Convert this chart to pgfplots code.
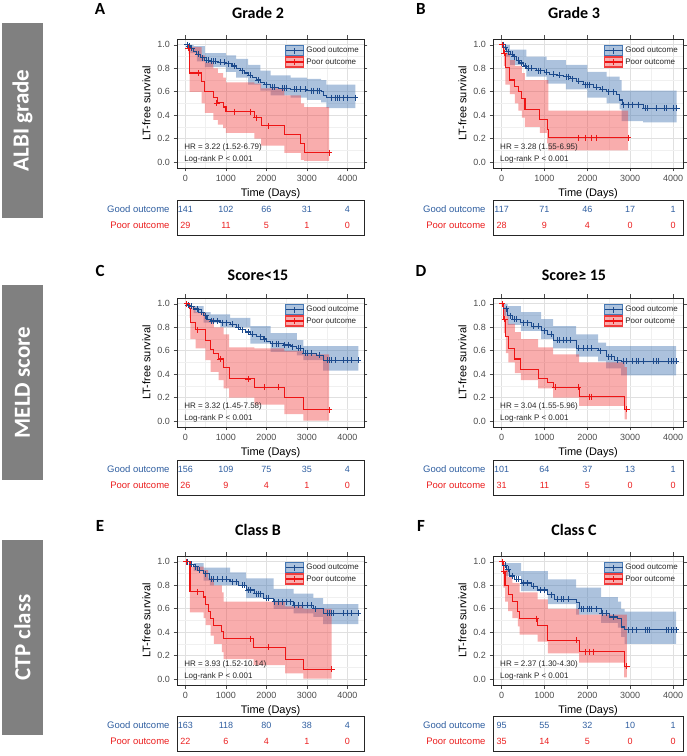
\documentclass[border=0pt]{standalone}
\usepackage{fontspec}
\setmainfont{Liberation Sans}
\newfontfamily\titlefont{Carlito}
\usepackage{pgfplots}
\pgfplotsset{compat=1.18}

\definecolor{goodc}{RGB}{28,74,140}
\definecolor{poorc}{RGB}{238,20,20}
\definecolor{goodbd}{RGB}{70,120,180}
\definecolor{poorbd}{RGB}{240,60,60}
\definecolor{goodtxt}{RGB}{47,94,160}
\definecolor{poortxt}{RGB}{235,30,30}
\definecolor{boxgray}{RGB}{128,128,128}

% bands: upper limit forward, then lower limit backward
% (each lower value paired with the time where it ends)
\pgfplotsset{
  km/.style={
    scale only axis, height=129pt,
    ymin=-0.05, ymax=1.05,
    ytick={0,0.2,0.4,0.6,0.8,1}, minor ytick={0.1,0.3,0.5,0.7,0.9},
    xtick={0,1000,2000,3000,4000}, minor xtick={500,1500,2500,3500},
    grid=both,
    major grid style={draw=black!12, line width=0.8pt},
    minor grid style={draw=black!6, line width=0.5pt},
    axis line style={draw=black!85, line width=0.9pt},
    tick align=outside, major tick length=3.5pt, minor tick length=0pt,
    tick style={draw=black!70, line width=0.7pt},
    tick label style={font=\fontsize{9}{10}\selectfont, text=black!70},
    /pgf/number format/assume math mode=true,
    /pgf/number format/1000 sep={},
    yticklabel style={/pgf/number format/fixed, /pgf/number format/fixed zerofill, /pgf/number format/precision=1},
    xlabel={Time (Days)}, ylabel={LT-free survival},
    label style={font=\fontsize{11}{12}\selectfont, text=black},
    legend style={at={(1,1)}, anchor=north east, xshift=-3pt, yshift=-6pt,
      draw=none, fill=none, font=\fontsize{8}{9}\selectfont, text=black!85,
      row sep=0pt, inner sep=0pt},
    legend cell align=left,
  },
  kmL/.style={km, width=187pt, xmin=-210, xmax=4410},
  kmR/.style={km, width=190pt, xmin=-201, xmax=4231},
  gband/.style={const plot, draw=none, fill=goodbd, fill opacity=0.45, forget plot},
  rband/.style={const plot, draw=none, fill=poorbd, fill opacity=0.42, forget plot},
  gline/.style={draw=goodc, line width=1.1pt, const plot,
    legend image code/.code={
      \fill[goodbd, fill opacity=0.45] (0pt,-5pt) rectangle (18pt,5pt);
      \draw[goodc, line width=1.1pt] (0pt,0pt) -- (18pt,0pt) (9pt,-3.2pt) -- (9pt,3.2pt);}},
  rline/.style={draw=poorc, line width=1.1pt, const plot,
    legend image code/.code={
      \fill[poorbd, fill opacity=0.42] (0pt,-5pt) rectangle (18pt,5pt);
      \draw[poorc, line width=1.1pt] (0pt,0pt) -- (18pt,0pt) (9pt,-3.2pt) -- (9pt,3.2pt);}},
  gcens/.style={only marks, mark=+, mark size=3pt, mark options={draw=goodc, line width=0.8pt}, forget plot},
  rcens/.style={only marks, mark=+, mark size=3pt, mark options={draw=poorc, line width=0.8pt}, forget plot},
  tbl/.style={scale only axis, height=35pt, ymin=0, ymax=2,
    xtick=\empty, minor xtick={500,1500,2500,3500},
    xminorgrids, minor grid style={draw=black!6, line width=0.5pt},
    ytick={0.57,1.47},
    yticklabels={\textcolor{poortxt}{Poor outcome},\textcolor{goodtxt}{Good outcome}},
    major tick length=0pt, minor tick length=0pt,
    yticklabel style={font=\fontsize{9.5}{10}\selectfont, xshift=-4pt},
    axis line style={draw=black!85, line width=0.9pt},
    clip=false},
  tblL/.style={tbl, width=187pt, xmin=-210, xmax=4410},
  tblR/.style={tbl, width=190pt, xmin=-201, xmax=4231},
  gnum/.style={draw=none, mark=none,
    nodes near coords, point meta=explicit symbolic,
    nodes near coords style={anchor=center, font=\fontsize{9}{10}\selectfont, text=goodtxt}},
  rnum/.style={draw=none, mark=none,
    nodes near coords, point meta=explicit symbolic,
    nodes near coords style={anchor=center, font=\fontsize{9}{10}\selectfont, text=poortxt}},
}
\tikzset{
  hr/.style={font=\fontsize{8}{9}\selectfont, text=black!85, inner sep=1pt, anchor=west},
  ttl/.style={font=\titlefont\bfseries\fontsize{16}{18}\selectfont, anchor=base},
  lett/.style={font=\titlefont\bfseries\fontsize{17}{18}\selectfont, anchor=base},
  side/.style={font=\titlefont\bfseries\fontsize{23}{24}\selectfont, text=white, rotate=90},
}

\begin{document}
\begin{tikzpicture}
\path (0pt,0pt) rectangle (685pt,756pt);

% side boxes
\fill[boxgray] (2pt,538pt) rectangle (43pt,733pt);
\node[side] at (22.5pt,635.5pt) {ALBI grade};
\fill[boxgray] (2pt,276pt) rectangle (43pt,471pt);
\node[side] at (22.5pt,373.5pt) {MELD score};
\fill[boxgray] (2pt,21pt) rectangle (43pt,216pt);
\node[side] at (22.5pt,118.5pt) {CTP class};

% titles and letters
\node[lett] at (100pt,741pt) {A};
\node[ttl] at (258pt,737pt) {Grade 2};
\node[lett] at (421pt,741pt) {B};
\node[ttl] at (574pt,737pt) {Grade 3};
\node[lett] at (100pt,479pt) {C};
\node[ttl] at (258pt,475pt) {Score<15};
\node[lett] at (421pt,479pt) {D};
\node[ttl] at (574pt,475pt) {Score≥ 15};
\node[lett] at (100pt,224pt) {E};
\node[ttl] at (258pt,220pt) {Class B};
\node[lett] at (421pt,224pt) {F};
\node[ttl] at (574pt,220pt) {Class C};

%================ A: Grade 2
\begin{axis}[kmL, at={(177pt,588pt)}, anchor=south west]
\addplot[gband] coordinates {(0,1.0)(200,0.99)(480,0.93)(1000,0.91)(1250,0.88)(1550,0.83)(1850,0.78)(2100,0.74)(2600,0.72)(3000,0.71)(3350,0.70)(3480,0.66)(4200,0.66)
  (4200,0.46)(3480,0.51)(3350,0.53)(3000,0.55)(2600,0.57)(2100,0.61)(1850,0.66)(1550,0.72)(1250,0.77)(1000,0.81)(480,0.86)(280,0.93)(120,1.0)(0,1.0)};
\addplot[rband] coordinates {(0,1.0)(100,0.98)(400,0.91)(480,0.85)(690,0.80)(800,0.76)(930,0.72)(1000,0.68)(1700,0.67)(1870,0.63)(2440,0.57)(2850,0.50)(2930,0.47)(3550,0.47)
  (3550,0.01)(2930,0.02)(2850,0.08)(2440,0.14)(1870,0.20)(1700,0.25)(1000,0.29)(930,0.32)(800,0.36)(690,0.42)(480,0.50)(400,0.60)(100,0.92)(80,1.0)(0,1.0)};
\addplot[gline] coordinates {(0,1.0)(60,0.99)(120,0.97)(200,0.94)(280,0.92)(380,0.89)(480,0.87)(600,0.86)(800,0.85)(1000,0.84)(1150,0.82)(1250,0.80)(1350,0.78)(1450,0.76)(1550,0.74)(1650,0.72)(1750,0.70)(1850,0.68)(1950,0.66)(2100,0.64)(2300,0.63)(2600,0.62)(3000,0.61)(3350,0.60)(3420,0.57)(3480,0.55)(4200,0.55)};
\addlegendentry{Good outcome}
\addplot[rline] coordinates {(0,1.0)(80,0.97)(100,0.76)(400,0.69)(480,0.60)(690,0.55)(800,0.505)(930,0.47)(1000,0.43)(1700,0.38)(1870,0.31)(2440,0.235)(2850,0.16)(2930,0.08)(3550,0.08)};
\addlegendentry{Poor outcome}
\addplot[gcens] coordinates {(40,1.0)(90,0.99)(150,0.97)(320,0.92)(420,0.89)(520,0.87)(560,0.87)(650,0.86)(700,0.86)(750,0.86)(850,0.85)(950,0.85)(1050,0.84)(1200,0.82)(1400,0.78)(1600,0.74)(1800,0.70)(2000,0.66)(2150,0.64)(2200,0.64)(2400,0.63)(2450,0.63)(2500,0.63)(2700,0.62)(2750,0.62)(2850,0.62)(2950,0.62)(3100,0.61)(3150,0.61)(3250,0.61)(3300,0.61)(3600,0.55)(3700,0.55)(3750,0.55)(3800,0.55)(3900,0.55)(4000,0.55)(4200,0.55)};
\addplot[rcens] coordinates {(60,0.97)(330,0.76)(770,0.505)(1200,0.43)(1600,0.43)(1750,0.38)(2050,0.31)(3550,0.08)};
\node[hr] at (axis cs:-60,0.125) {HR = 3.22 (1.52-6.79)};
\node[hr] at (axis cs:-60,0.023) {Log-rank P < 0.001};
\end{axis}
\begin{axis}[tblL, at={(177pt,521pt)}, anchor=south west]
\addplot[gnum] coordinates {(0,1.47)[141] (1000,1.47)[102] (2000,1.47)[66] (3000,1.47)[31] (4000,1.47)[4]};
\addplot[rnum] coordinates {(0,0.57)[29] (1000,0.57)[11] (2000,0.57)[5] (3000,0.57)[1] (4000,0.57)[0]};
\end{axis}

%================ B: Grade 3
\begin{axis}[kmR, at={(493pt,588pt)}, anchor=south west]
\addplot[gband] coordinates {(0,1.0)(190,0.96)(580,0.90)(1050,0.87)(1500,0.83)(2000,0.77)(2450,0.73)(2750,0.70)(2800,0.61)(4080,0.61)
  (4080,0.34)(3300,0.35)(2800,0.45)(2750,0.50)(2450,0.55)(2000,0.62)(1500,0.67)(1050,0.73)(580,0.83)(190,0.90)(100,1.0)(0,1.0)};
\addplot[rband] coordinates {(0,1.0)(50,0.99)(90,0.93)(190,0.87)(310,0.82)(470,0.76)(545,0.70)(1090,0.44)(2950,0.44)
  (2950,0.10)(1090,0.16)(1060,0.25)(890,0.30)(545,0.38)(470,0.44)(390,0.50)(310,0.58)(190,0.66)(90,0.82)(50,1.0)(0,1.0)};
\addplot[gline] coordinates {(0,1.0)(50,0.98)(116,0.94)(200,0.92)(272,0.90)(350,0.87)(427,0.845)(500,0.82)(583,0.80)(816,0.78)(1000,0.765)(1126,0.75)(1300,0.74)(1437,0.73)(1600,0.71)(1748,0.69)(1903,0.66)(2136,0.64)(2300,0.62)(2447,0.60)(2680,0.575)(2758,0.53)(2820,0.49)(3300,0.46)(4080,0.46)};
\addlegendentry{Good outcome}
\addplot[rline] coordinates {(0,1.0)(50,0.93)(90,0.81)(190,0.70)(310,0.645)(390,0.60)(470,0.545)(545,0.45)(890,0.36)(1060,0.28)(1090,0.21)(2950,0.21)};
\addlegendentry{Poor outcome}
\addplot[gcens] coordinates {(30,1.0)(80,0.98)(150,0.94)(250,0.92)(300,0.90)(400,0.87)(450,0.845)(550,0.82)(620,0.80)(700,0.80)(850,0.78)(900,0.78)(1050,0.765)(1200,0.75)(1350,0.74)(1500,0.73)(1550,0.73)(1650,0.71)(1800,0.69)(1950,0.66)(2000,0.66)(2050,0.66)(2200,0.64)(2350,0.62)(2500,0.60)(2600,0.60)(2850,0.49)(2950,0.49)(3050,0.49)(3200,0.49)(3350,0.46)(3400,0.46)(3600,0.46)(3800,0.46)(3850,0.46)(4000,0.46)(4080,0.46)};
\addplot[rcens] coordinates {(20,1.0)(60,0.93)(1790,0.21)(1950,0.21)(2100,0.21)(2200,0.21)(2950,0.21)};
\node[hr] at (axis cs:-60,0.125) {HR = 3.28 (1.55-6.95)};
\node[hr] at (axis cs:-60,0.023) {Log-rank P < 0.001};
\end{axis}
\begin{axis}[tblR, at={(493pt,521pt)}, anchor=south west]
\addplot[gnum] coordinates {(0,1.47)[117] (1000,1.47)[71] (2000,1.47)[46] (3000,1.47)[17] (4000,1.47)[1]};
\addplot[rnum] coordinates {(0,0.57)[28] (1000,0.57)[9] (2000,0.57)[4] (3000,0.57)[0] (4000,0.57)[0]};
\end{axis}

%================ C: Score<15
\begin{axis}[kmL, at={(177pt,329pt)}, anchor=south west]
\addplot[gband] coordinates {(0,1.0)(200,0.98)(450,0.93)(620,0.91)(1100,0.88)(1600,0.81)(2100,0.75)(2750,0.69)(2910,0.64)(4270,0.64)
  (4270,0.43)(3400,0.52)(2910,0.56)(2750,0.59)(2100,0.66)(1600,0.80)(860,0.84)(450,0.92)(200,1.0)(0,1.0)};
\addplot[rband] coordinates {(0,1.0)(120,0.97)(250,0.93)(490,0.87)(700,0.80)(940,0.74)(1080,0.63)(1700,0.62)(2440,0.60)(2910,0.57)(3550,0.57)
  (3550,0.005)(2910,0.06)(2440,0.14)(1700,0.20)(1080,0.28)(940,0.35)(820,0.42)(620,0.52)(490,0.62)(250,0.70)(120,0.88)(100,1.0)(0,1.0)};
\addplot[gline] coordinates {(0,1.0)(40,0.99)(100,0.98)(205,0.956)(330,0.93)(451,0.90)(530,0.87)(616,0.854)(862,0.84)(1108,0.825)(1250,0.80)(1354,0.78)(1480,0.76)(1601,0.74)(1750,0.72)(1929,0.70)(2000,0.68)(2093,0.66)(2421,0.65)(2600,0.635)(2750,0.62)(2914,0.58)(3242,0.56)(3406,0.52)(4268,0.52)};
\addlegendentry{Good outcome}
\addplot[rline] coordinates {(0,1.0)(100,0.96)(120,0.84)(250,0.78)(490,0.69)(620,0.61)(700,0.58)(820,0.53)(940,0.46)(1080,0.36)(1700,0.29)(2440,0.20)(2910,0.096)(3550,0.096)};
\addlegendentry{Poor outcome}
\addplot[gcens] coordinates {(60,0.99)(150,0.98)(300,0.956)(400,0.93)(500,0.90)(650,0.854)(700,0.854)(800,0.854)(900,0.84)(1000,0.84)(1150,0.825)(1300,0.80)(1400,0.78)(1550,0.76)(1650,0.74)(1850,0.72)(1950,0.70)(2150,0.66)(2250,0.66)(2300,0.66)(2450,0.65)(2550,0.65)(2650,0.635)(2800,0.62)(2850,0.62)(2950,0.58)(3000,0.58)(3100,0.58)(3300,0.56)(3500,0.52)(3550,0.52)(3600,0.52)(3700,0.52)(3900,0.52)(4000,0.52)(4100,0.52)(4268,0.52)};
\addplot[rcens] coordinates {(30,1.0)(300,0.78)(850,0.53)(1550,0.36)(1950,0.29)(2300,0.29)(3550,0.096)};
\node[hr] at (axis cs:-60,0.125) {HR = 3.32 (1.45-7.58)};
\node[hr] at (axis cs:-60,0.023) {Log-rank P < 0.001};
\end{axis}
\begin{axis}[tblL, at={(177pt,261pt)}, anchor=south west]
\addplot[gnum] coordinates {(0,1.47)[156] (1000,1.47)[109] (2000,1.47)[75] (3000,1.47)[35] (4000,1.47)[4]};
\addplot[rnum] coordinates {(0,0.57)[26] (1000,0.57)[9] (2000,0.57)[4] (3000,0.57)[1] (4000,0.57)[0]};
\end{axis}

%================ D: Score>=15
\begin{axis}[kmR, at={(493pt,329pt)}, anchor=south west]
\addplot[gband] coordinates {(0,1.0)(140,0.98)(450,0.93)(920,0.87)(1200,0.81)(1740,0.74)(2250,0.67)(2440,0.64)(4070,0.64)
  (4070,0.39)(2790,0.45)(2440,0.51)(2250,0.55)(1740,0.62)(1200,0.70)(920,0.77)(450,0.82)(140,0.90)(50,1.0)(0,1.0)};
\addplot[rband] coordinates {(0,1.0)(50,0.97)(100,0.90)(160,0.83)(310,0.76)(450,0.70)(850,0.63)(1200,0.57)(1810,0.50)(2870,0.46)(2920,0.46)
  (2920,0.015)(2870,0.13)(1810,0.20)(1200,0.28)(850,0.35)(450,0.41)(310,0.50)(160,0.58)(100,0.75)(50,1.0)(0,1.0)};
\addplot[gline] coordinates {(0,1.0)(50,0.96)(140,0.90)(260,0.87)(450,0.84)(690,0.81)(920,0.77)(1080,0.74)(1200,0.69)(1740,0.62)(2250,0.60)(2440,0.55)(2630,0.52)(2790,0.51)(4070,0.51)};
\addlegendentry{Good outcome}
\addplot[rline] coordinates {(0,1.0)(50,0.87)(100,0.72)(160,0.62)(310,0.53)(450,0.44)(850,0.36)(1080,0.33)(1200,0.29)(1810,0.21)(2870,0.10)(2920,0.10)};
\addlegendentry{Poor outcome}
\addplot[gcens] coordinates {(20,1.0)(100,0.96)(200,0.90)(300,0.87)(350,0.87)(500,0.84)(600,0.84)(750,0.81)(850,0.81)(1000,0.77)(1150,0.74)(1300,0.69)(1350,0.69)(1450,0.69)(1500,0.69)(1600,0.69)(1800,0.62)(1900,0.62)(2000,0.62)(2100,0.62)(2300,0.60)(2500,0.55)(2550,0.55)(2700,0.52)(2850,0.51)(2900,0.51)(3050,0.51)(3150,0.51)(3200,0.51)(3300,0.51)(3550,0.51)(3600,0.51)(3650,0.51)(3900,0.51)(3950,0.51)(4000,0.51)(4070,0.51)};
\addplot[rcens] coordinates {(10,1.0)(70,0.87)(1250,0.29)(1780,0.29)(2050,0.21)(2100,0.21)(2920,0.10)};
\node[hr] at (axis cs:-60,0.125) {HR = 3.04 (1.55-5.96)};
\node[hr] at (axis cs:-60,0.023) {Log-rank P < 0.001};
\end{axis}
\begin{axis}[tblR, at={(493pt,261pt)}, anchor=south west]
\addplot[gnum] coordinates {(0,1.47)[101] (1000,1.47)[64] (2000,1.47)[37] (3000,1.47)[13] (4000,1.47)[1]};
\addplot[rnum] coordinates {(0,0.57)[31] (1000,0.57)[11] (2000,0.57)[5] (3000,0.57)[0] (4000,0.57)[0]};
\end{axis}

%================ E: Class B
\begin{axis}[kmL, at={(177pt,71pt)}, anchor=south west]
\addplot[gband] coordinates {(0,1.0)(200,0.99)(450,0.95)(1100,0.91)(1500,0.86)(2175,0.77)(2670,0.73)(3160,0.69)(3400,0.64)(4270,0.64)
  (4270,0.47)(3400,0.53)(3160,0.56)(2670,0.60)(2175,0.69)(1500,0.80)(600,0.84)(450,0.92)(200,1.0)(0,1.0)};
\addplot[rband] coordinates {(0,1.0)(110,0.96)(450,0.93)(560,0.86)(700,0.80)(900,0.74)(940,0.66)(2460,0.62)(2910,0.60)(3610,0.60)
  (3610,0.005)(2910,0.05)(2460,0.12)(1680,0.17)(940,0.23)(900,0.30)(700,0.37)(620,0.46)(500,0.52)(450,0.57)(110,1.0)(0,1.0)};
\addplot[gline] coordinates {(0,1.0)(100,0.98)(200,0.96)(300,0.93)(450,0.90)(600,0.85)(1100,0.83)(1300,0.80)(1500,0.76)(1700,0.73)(1930,0.69)(2175,0.66)(2670,0.63)(3160,0.60)(3400,0.56)(4270,0.56)};
\addlegendentry{Good outcome}
\addplot[rline] coordinates {(0,1.0)(110,0.745)(450,0.70)(500,0.64)(560,0.58)(620,0.52)(700,0.46)(900,0.41)(940,0.345)(1680,0.27)(2460,0.17)(2910,0.086)(3610,0.086)};
\addlegendentry{Poor outcome}
\addplot[gcens] coordinates {(40,1.0)(150,0.98)(250,0.96)(350,0.93)(500,0.90)(650,0.85)(700,0.85)(800,0.85)(900,0.85)(1000,0.85)(1150,0.83)(1250,0.83)(1400,0.80)(1450,0.80)(1550,0.76)(1600,0.76)(1750,0.73)(1800,0.73)(1850,0.73)(2000,0.69)(2050,0.69)(2200,0.66)(2300,0.66)(2400,0.66)(2500,0.66)(2600,0.66)(2700,0.63)(2800,0.63)(2900,0.63)(3000,0.63)(3100,0.63)(3200,0.60)(3500,0.56)(3550,0.56)(3600,0.56)(3650,0.56)(3900,0.56)(4000,0.56)(4100,0.56)(4270,0.56)};
\addplot[rcens] coordinates {(20,1.0)(300,0.745)(1600,0.345)(2050,0.27)(3610,0.086)};
\node[hr] at (axis cs:-60,0.125) {HR = 3.93 (1.52-10.14)};
\node[hr] at (axis cs:-60,0.023) {Log-rank P < 0.001};
\end{axis}
\begin{axis}[tblL, at={(177pt,5pt)}, anchor=south west]
\addplot[gnum] coordinates {(0,1.47)[163] (1000,1.47)[118] (2000,1.47)[80] (3000,1.47)[38] (4000,1.47)[4]};
\addplot[rnum] coordinates {(0,0.57)[22] (1000,0.57)[6] (2000,0.57)[4] (3000,0.57)[1] (4000,0.57)[0]};
\end{axis}

%================ F: Class C
\begin{axis}[kmR, at={(493pt,71pt)}, anchor=south west]
\addplot[gband] coordinates {(0,1.0)(107,0.99)(457,0.92)(1080,0.85)(1740,0.78)(2320,0.70)(2710,0.66)(2790,0.60)(2870,0.575)(4070,0.575)
  (4070,0.30)(2870,0.36)(2790,0.44)(2710,0.48)(2320,0.55)(1740,0.64)(1080,0.75)(457,0.88)(107,1.0)(0,1.0)};
\addplot[rband] coordinates {(0,1.0)(40,0.99)(80,0.93)(150,0.87)(250,0.82)(420,0.74)(840,0.68)(1080,0.60)(1810,0.55)(2920,0.55)
  (2920,0.015)(2860,0.14)(1810,0.22)(1080,0.32)(840,0.38)(420,0.45)(380,0.52)(250,0.58)(150,0.66)(80,0.78)(40,1.0)(0,1.0)};
\addplot[gline] coordinates {(0,1.0)(50,0.97)(107,0.935)(185,0.88)(300,0.85)(457,0.82)(690,0.79)(845,0.76)(1080,0.72)(1235,0.68)(1740,0.65)(1818,0.60)(2320,0.56)(2517,0.53)(2710,0.52)(2790,0.445)(2870,0.42)(4070,0.42)};
\addlegendentry{Good outcome}
\addplot[rline] coordinates {(0,1.0)(40,0.92)(80,0.80)(150,0.72)(250,0.66)(380,0.58)(420,0.515)(840,0.46)(1080,0.33)(1810,0.235)(2860,0.11)(2920,0.11)};
\addlegendentry{Poor outcome}
\addplot[gcens] coordinates {(20,1.0)(80,0.97)(150,0.935)(250,0.88)(350,0.85)(400,0.85)(500,0.82)(600,0.82)(750,0.79)(900,0.76)(1000,0.76)(1150,0.72)(1300,0.68)(1400,0.68)(1450,0.68)(1550,0.68)(1850,0.60)(1900,0.60)(2000,0.60)(2050,0.60)(2100,0.60)(2200,0.60)(2350,0.56)(2450,0.56)(2600,0.53)(2950,0.42)(3050,0.42)(3150,0.42)(3350,0.42)(3400,0.42)(3450,0.42)(3850,0.42)(3900,0.42)(3950,0.42)(4000,0.42)(4070,0.42)};
\addplot[rcens] coordinates {(10,1.0)(50,0.92)(800,0.515)(1750,0.33)(1950,0.235)(2050,0.235)(2150,0.235)(2920,0.11)};
\node[hr] at (axis cs:-60,0.125) {HR = 2.37 (1.30-4.30)};
\node[hr] at (axis cs:-60,0.023) {Log-rank P < 0.001};
\end{axis}
\begin{axis}[tblR, at={(493pt,5pt)}, anchor=south west]
\addplot[gnum] coordinates {(0,1.47)[95] (1000,1.47)[55] (2000,1.47)[32] (3000,1.47)[10] (4000,1.47)[1]};
\addplot[rnum] coordinates {(0,0.57)[35] (1000,0.57)[14] (2000,0.57)[5] (3000,0.57)[0] (4000,0.57)[0]};
\end{axis}
\end{tikzpicture}
\end{document}
